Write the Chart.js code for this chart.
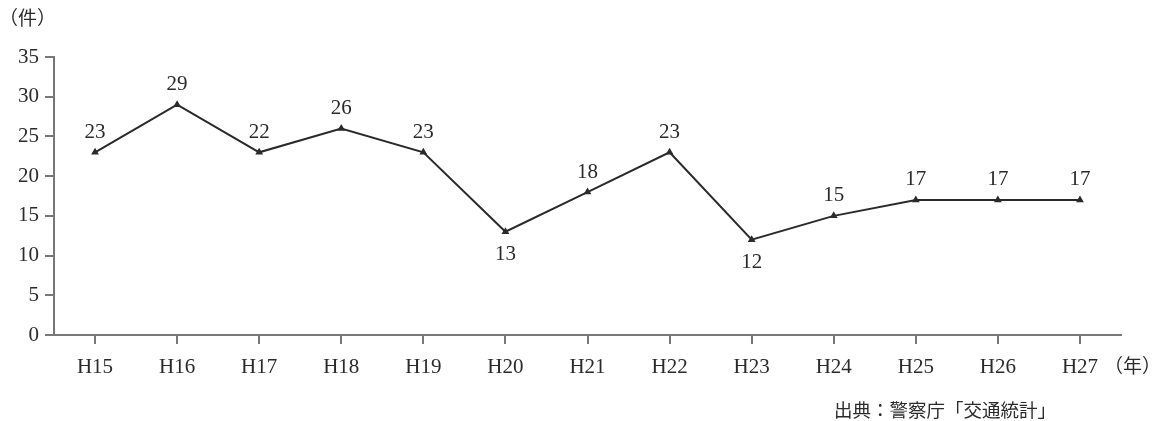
<!DOCTYPE html>
<html>
<head>
<meta charset="utf-8">
<script src="https://cdn.jsdelivr.net/npm/chart.js@4"></script>
<style>
  html, body { margin: 0; padding: 0; background: #fff; }
  #wrap { width: 1154px; height: 421px; }
</style>
</head>
<body>
<div id="wrap"><canvas id="chart"></canvas></div>
<script>
const years = ["H15", "H16", "H17", "H18", "H19", "H20", "H21", "H22", "H23", "H24", "H25", "H26", "H27"];
// plotted positions
const cases = [23, 29, 23, 26, 23, 13, 18, 23, 12, 15, 17, 17, 17];
// numbers printed next to each point
const printed = ["23", "29", "22", "26", "23", "13", "18", "23", "12", "15", "17", "17", "17"];
const below = [false, false, false, false, false, true, false, false, true, false, false, false, false];
const yTicks = [0, 5, 10, 15, 20, 25, 30, 35];

const serif = "'Liberation Serif', 'DejaVu Serif', serif";
const jp = "'Noto Sans CJK JP', sans-serif";
const ink = "#2a2a2a";
const axisGray = "#777";

const extras = {
    id: "extras",
    afterDatasetsDraw(chart) {
        const ctx = chart.ctx;
        const meta = chart.getDatasetMeta(0);
        ctx.save();
        ctx.fillStyle = ink;
        ctx.font = "21px " + serif;
        ctx.textAlign = "center";
        ctx.textBaseline = "middle";
        meta.data.forEach((pt, i) => {
            const dy = below[i] ? 23 : -20;
            ctx.fillText(printed[i], pt.x, pt.y + dy);
        });

        ctx.font = "19px " + jp;
        ctx.textAlign = "left";
        ctx.fillText("（件）", -1, 18);

        const xs = chart.scales.x;
        const lastX = xs.getPixelForValue(years.length - 1);
        ctx.fillText("（年）", lastX + 24, 366);

        ctx.font = "18.5px " + jp;
        ctx.fillText("出典：警察庁「交通統計」", 834, 410);
        ctx.restore();
    }
};

new Chart(document.getElementById("chart"), {
    type: "line",
    data: {
        labels: years,
        datasets: [{
            data: cases,
            borderColor: ink,
            backgroundColor: ink,
            borderWidth: 2,
            tension: 0,
            pointStyle: "triangle",
            pointRadius: 4.5,
            pointHoverRadius: 4.5,
            pointBorderWidth: 0
        }]
    },
    options: {
        responsive: true,
        maintainAspectRatio: false,
        animation: false,
        layout: { padding: { top: 57, right: 33, bottom: 0, left: 0 } },
        plugins: {
            legend: { display: false },
            tooltip: { enabled: false }
        },
        scales: {
            x: {
                offset: true,
                grid: { drawOnChartArea: false, tickLength: 9, color: axisGray, lineWidth: 2 },
                border: { color: axisGray, width: 2 },
                ticks: {
                    color: ink,
                    font: { family: serif, size: 21 },
                    padding: 11,
                    maxRotation: 0
                },
                afterFit(scale) { scale.height = 421 - 335; }
            },
            y: {
                min: 0,
                max: 35,
                afterBuildTicks(scale) { scale.ticks = yTicks.map(v => ({ value: v })); },
                grid: { drawOnChartArea: false, tickLength: 9, color: axisGray, lineWidth: 2 },
                border: { color: axisGray, width: 2 },
                ticks: {
                    color: ink,
                    font: { family: serif, size: 21 },
                    padding: 6
                },
                afterFit(scale) { scale.width = 54; }
            }
        }
    },
    plugins: [extras]
});
</script>
</body>
</html>
